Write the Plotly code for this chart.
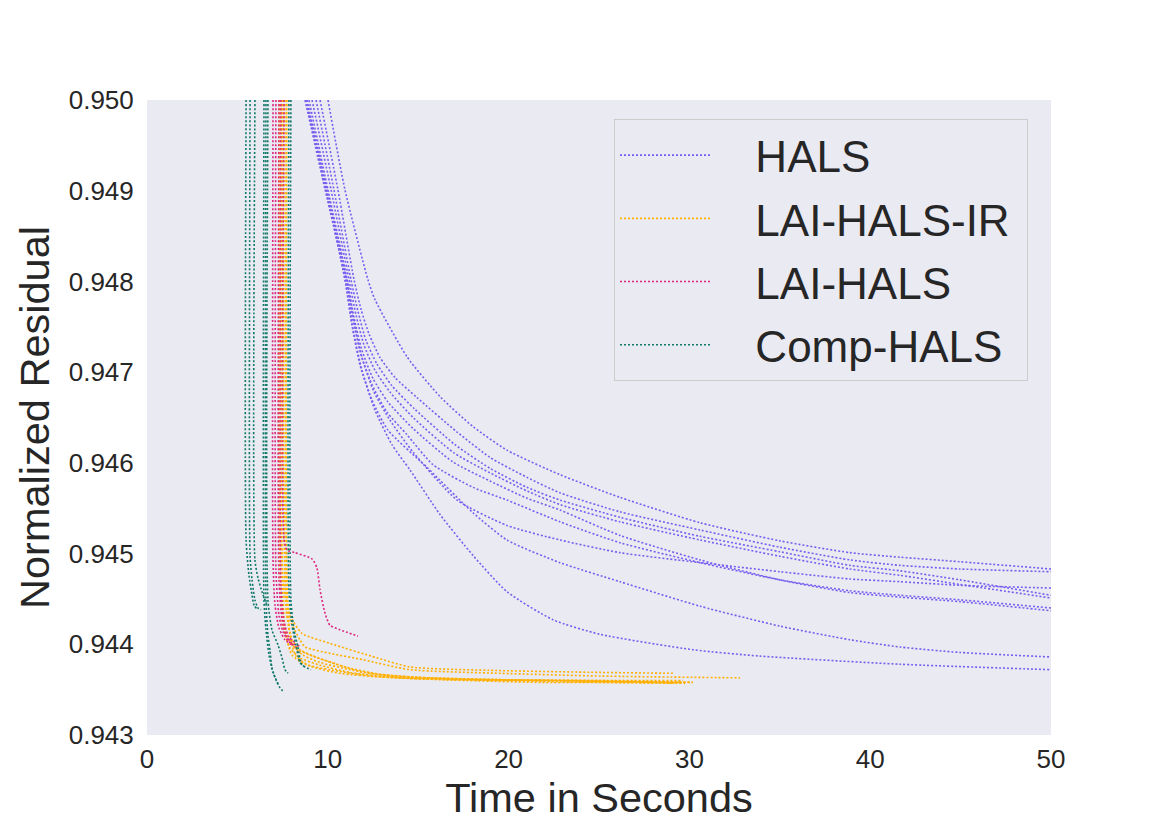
import plotly.graph_objects as go

# normalized residual vs. time, one list per run

HALS_X = [
    [10.01, 10.95, 12.22, 12.61, 14.38, 16.21, 18.03, 19.91, 22.84, 26.16, 30.59, 35.01, 38.88, 41.65, 44.97, 50.0],
    [9.57, 10.56, 11.45, 11.84, 12.28, 12.89, 13.72, 14.93, 17.15, 18.97, 21.02, 22.84, 26.16, 30.59, 35.01, 38.88, 41.65, 44.97, 50.0],
    [9.35, 10.34, 11.28, 11.67, 12.11, 12.72, 13.55, 14.82, 17.04, 18.97, 21.02, 22.84, 26.16, 30.59, 35.01, 38.88, 41.65, 44.97, 50.0],
    [9.13, 10.18, 11.17, 11.56, 12.00, 12.61, 13.44, 14.77, 16.98, 18.97, 21.02, 22.84, 26.16, 30.59, 35.01, 38.88, 41.65, 44.97, 50.0],
    [8.96, 10.01, 11.06, 11.45, 11.89, 12.50, 13.33, 14.71, 16.92, 18.97, 21.02, 22.84, 26.16, 30.59, 35.01, 38.88, 41.65, 44.97, 50.0],
    [8.74, 9.85, 11.01, 11.39, 11.84, 12.45, 13.27, 14.38, 15.82, 18.03, 19.91, 22.84, 26.16, 30.59, 35.01, 38.88, 41.65, 44.97, 50.0],
    [8.85, 9.96, 11.06, 11.45, 11.89, 12.56, 13.44, 14.71, 17.15, 19.91, 22.84, 26.16, 30.59, 35.01, 38.88, 41.65, 44.97, 50.0],
    [8.79, 9.90, 10.95, 11.34, 11.78, 12.45, 13.33, 15.49, 18.03, 19.91, 22.84, 26.16, 30.59, 35.01, 38.88, 41.65, 44.97, 50.0],
    [8.79, 9.90, 10.95, 11.39, 11.89, 12.61, 13.55, 14.55, 16.21, 18.03, 19.91, 22.46, 25.06, 30.20, 33.90, 41.65, 50.0],
]
HALS_Y = [
    [0.95000, 0.94901, 0.94802, 0.94780, 0.94717, 0.94673, 0.94640, 0.94614, 0.94587, 0.94562, 0.94534, 0.94514, 0.94501, 0.94496, 0.94491, 0.94483],
    [0.95000, 0.94901, 0.94802, 0.94769, 0.94742, 0.94716, 0.94694, 0.94672, 0.94634, 0.94606, 0.94584, 0.94567, 0.94546, 0.94526, 0.94507, 0.94493, 0.94487, 0.94483, 0.94480],
    [0.95000, 0.94901, 0.94802, 0.94767, 0.94735, 0.94709, 0.94685, 0.94659, 0.94620, 0.94594, 0.94573, 0.94559, 0.94540, 0.94519, 0.94502, 0.94487, 0.94481, 0.94471, 0.94454],
    [0.95000, 0.94901, 0.94802, 0.94763, 0.94730, 0.94702, 0.94678, 0.94649, 0.94611, 0.94589, 0.94569, 0.94554, 0.94535, 0.94515, 0.94497, 0.94483, 0.94476, 0.94466, 0.94451],
    [0.95000, 0.94901, 0.94802, 0.94760, 0.94724, 0.94693, 0.94667, 0.94638, 0.94601, 0.94580, 0.94561, 0.94548, 0.94520, 0.94493, 0.94471, 0.94457, 0.94452, 0.94447, 0.94437],
    [0.95000, 0.94901, 0.94802, 0.94758, 0.94719, 0.94686, 0.94656, 0.94631, 0.94598, 0.94573, 0.94559, 0.94535, 0.94512, 0.94490, 0.94471, 0.94459, 0.94454, 0.94449, 0.94440],
    [0.95000, 0.94901, 0.94802, 0.94756, 0.94716, 0.94678, 0.94647, 0.94612, 0.94559, 0.94531, 0.94515, 0.94501, 0.94490, 0.94480, 0.94472, 0.94469, 0.94465, 0.94462],
    [0.95000, 0.94901, 0.94802, 0.94752, 0.94708, 0.94669, 0.94636, 0.94595, 0.94545, 0.94515, 0.94490, 0.94469, 0.94442, 0.94420, 0.94405, 0.94397, 0.94391, 0.94386],
    [0.95000, 0.94901, 0.94802, 0.94747, 0.94702, 0.94658, 0.94620, 0.94592, 0.94543, 0.94498, 0.94458, 0.94427, 0.94411, 0.94394, 0.94387, 0.94378, 0.94372],
]

IR_X = [
    [7.52, 7.52, 7.63, 7.74, 7.91, 8.57, 10.12, 12.72, 14.55, 19.52, 25.06, 29.09],
    [7.41, 7.41, 7.52, 7.91, 8.46, 8.74, 10.12, 11.95, 14.55, 19.52, 25.06, 32.80],
    [7.30, 7.30, 7.41, 7.74, 8.19, 9.02, 10.51, 11.95, 14.55, 19.52, 25.06, 30.20],
    [7.58, 7.58, 7.69, 8.02, 8.46, 9.46, 10.95, 12.89, 15.65, 19.52, 25.06, 29.65],
    [7.69, 7.69, 7.80, 8.08, 8.63, 9.57, 11.23, 13.44, 16.76, 22.29, 27.82, 30.03],
    [7.36, 7.36, 7.52, 7.91, 8.46, 9.57, 11.23, 13.99, 17.31, 22.84, 29.48],
    [7.47, 7.47, 7.63, 8.02, 8.74, 10.12, 12.33, 15.10, 19.52, 25.06, 29.76],
    [7.74, 7.74, 7.91, 8.24, 9.02, 10.67, 12.89, 16.21, 21.74, 27.27, 29.20],
]
IR_Y = [
    [0.95000, 0.94614, 0.94493, 0.94449, 0.94432, 0.94412, 0.94401, 0.94385, 0.94375, 0.94371, 0.94369, 0.94368],
    [0.95000, 0.94614, 0.94471, 0.94427, 0.94405, 0.94397, 0.94390, 0.94383, 0.94372, 0.94368, 0.94365, 0.94363],
    [0.95000, 0.94559, 0.94449, 0.94410, 0.94396, 0.94388, 0.94378, 0.94369, 0.94364, 0.94361, 0.94360, 0.94358],
    [0.95000, 0.94559, 0.94438, 0.94405, 0.94394, 0.94385, 0.94375, 0.94367, 0.94363, 0.94361, 0.94360, 0.94360],
    [0.95000, 0.94537, 0.94427, 0.94399, 0.94388, 0.94380, 0.94372, 0.94365, 0.94362, 0.94360, 0.94358, 0.94358],
    [0.95000, 0.94515, 0.94421, 0.94396, 0.94385, 0.94377, 0.94369, 0.94363, 0.94361, 0.94360, 0.94358],
    [0.95000, 0.94493, 0.94416, 0.94388, 0.94378, 0.94372, 0.94365, 0.94362, 0.94360, 0.94358, 0.94357],
    [0.95000, 0.94471, 0.94409, 0.94387, 0.94376, 0.94368, 0.94364, 0.94361, 0.94358, 0.94358, 0.94357],
]

LAI_X = [
    [7.58, 7.58, 7.74, 8.19, 9.13, 9.40, 9.57, 9.85, 10.12, 10.67, 11.67],
    [6.97, 6.97, 7.08, 7.30, 7.63, 8.02],
    [7.13, 7.13, 7.30, 7.52, 7.85, 8.24],
    [7.30, 7.30, 7.47, 7.69, 8.02, 8.46],
    [7.41, 7.41, 7.58, 7.85, 8.24],
]
LAI_Y = [
    [0.95000, 0.94515, 0.94504, 0.94501, 0.94494, 0.94484, 0.94460, 0.94434, 0.94421, 0.94416, 0.94409],
    [0.95000, 0.94493, 0.94443, 0.94418, 0.94405, 0.94399],
    [0.95000, 0.94482, 0.94432, 0.94414, 0.94403, 0.94397],
    [0.95000, 0.94471, 0.94427, 0.94410, 0.94401, 0.94398],
    [0.95000, 0.94465, 0.94425, 0.94408, 0.94401],
]

COMP_X = [
    [5.48, 5.48, 5.64, 5.81, 5.92, 6.08],
    [5.70, 5.70, 5.81, 5.97, 6.14, 6.31],
    [5.97, 5.97, 6.14, 6.36, 6.58, 6.69],
    [6.58, 6.58, 6.69, 6.80, 6.91, 7.13, 7.36, 7.58],
    [6.47, 6.47, 6.58, 6.75, 6.97, 7.25],
    [6.69, 6.69, 6.91, 7.25, 7.47, 7.63, 7.80],
    [7.96, 7.96, 8.13, 8.35, 8.52, 8.74, 9.07],
    [7.85, 7.85, 8.02, 8.24, 8.46, 8.79],
]
COMP_Y = [
    [0.95000, 0.94515, 0.94476, 0.94454, 0.94443, 0.94439],
    [0.95000, 0.94498, 0.94471, 0.94449, 0.94440, 0.94438],
    [0.95000, 0.94493, 0.94473, 0.94458, 0.94446, 0.94442],
    [0.95000, 0.94449, 0.94410, 0.94394, 0.94374, 0.94361, 0.94352, 0.94347],
    [0.95000, 0.94449, 0.94416, 0.94388, 0.94369, 0.94356],
    [0.95000, 0.94449, 0.94416, 0.94399, 0.94385, 0.94372, 0.94368],
    [0.95000, 0.94449, 0.94416, 0.94397, 0.94379, 0.94375, 0.94372],
    [0.95000, 0.94460, 0.94421, 0.94399, 0.94380, 0.94374],
]

methods = [
    ('HALS', HALS_X, HALS_Y, '#785EF0'),
    ('LAI-HALS-IR', IR_X, IR_Y, '#FFB000'),
    ('LAI-HALS', LAI_X, LAI_Y, '#DC267F'),
    ('Comp-HALS', COMP_X, COMP_Y, '#10796A'),
]

sp = '\u00a0'  # non-breaking spaces to pad the legend labels
lead = sp * 3 + '\u200a'

fig = go.Figure()
for name, xs, ys, col in methods:
    for i in range(len(xs)):
        fig.add_trace(go.Scatter(
            x=xs[i], y=ys[i], mode='lines', name=lead + name + sp,
            legendgroup=name, showlegend=(i == 0),
            line=dict(color=col, width=1.6, dash='2px,2px',
                      shape='spline', smoothing=0.6)))

font = 'Liberation Sans, Arial, sans-serif'
txt = '#262626'

fig.update_layout(
    width=1170, height=827,
    margin=dict(l=147, r=119, t=100, b=92),
    paper_bgcolor='white',
    plot_bgcolor='#EAEAF2',
    font=dict(family=font, color=txt, size=26),
    showlegend=True,
    legend=dict(
        x=0.5166, y=0.970, xanchor='left', yanchor='top',
        bgcolor='rgba(234,234,242,0.8)', bordercolor='#CCCCCC', borderwidth=1,
        font=dict(size=44, color=txt), itemwidth=90,
        tracegroupgap=3),
)
fig.update_xaxes(
    range=[0, 50], tickvals=[0, 10, 20, 30, 40, 50],
    showgrid=False, zeroline=False, showline=False, automargin=False,
    ticks='outside', ticklen=1, tickcolor='rgba(0,0,0,0)',
    tickfont=dict(size=26),
    title=dict(text='Time in Seconds', font=dict(size=41.5), standoff=0))
fig.update_yaxes(
    range=[0.943, 0.950],
    tickvals=[0.943, 0.944, 0.945, 0.946, 0.947, 0.948, 0.949, 0.950],
    tickformat='.3f',
    showgrid=False, zeroline=False, showline=False, automargin=False,
    ticks='outside', ticklen=7, tickcolor='rgba(0,0,0,0)',
    tickfont=dict(size=26),
    title=dict(text='Normalized Residual', font=dict(size=41.5), standoff=6))

# the page's default body margin would shift the figure by 8px
fig.write_html('out.html', config={'displayModeBar': False},
               post_script="document.body.style.margin='0';")
